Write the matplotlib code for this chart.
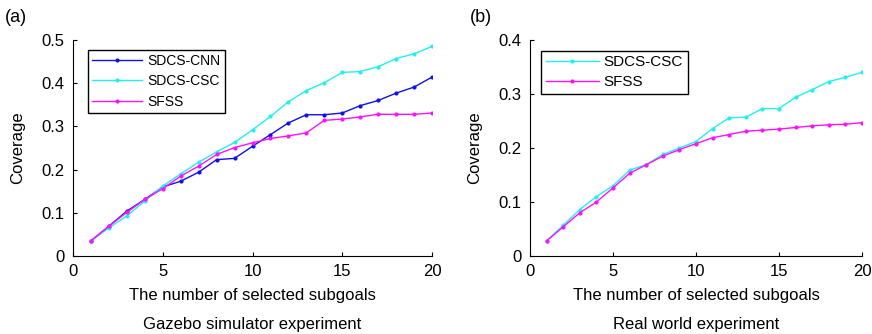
import numpy as np
import matplotlib.pyplot as plt

plt.rcParams['font.family'] = ['Liberation Sans', 'DejaVu Sans']
plt.rcParams['font.size'] = 12

# data
subgoals = list(range(1, 21))

gazebo_cnn = [0.035, 0.069, 0.104, 0.131, 0.160, 0.173, 0.194, 0.223, 0.226, 0.254,
              0.281, 0.308, 0.327, 0.327, 0.331, 0.348, 0.360, 0.377, 0.391, 0.414]
gazebo_csc = [0.035, 0.065, 0.093, 0.127, 0.162, 0.190, 0.217, 0.241, 0.263, 0.292,
              0.323, 0.357, 0.383, 0.401, 0.425, 0.427, 0.438, 0.457, 0.468, 0.485]
gazebo_sfss = [0.035, 0.069, 0.101, 0.131, 0.156, 0.185, 0.208, 0.235, 0.251, 0.262,
               0.272, 0.278, 0.285, 0.314, 0.317, 0.322, 0.328, 0.328, 0.328, 0.331]

real_csc = [0.028, 0.057, 0.086, 0.110, 0.130, 0.159, 0.169, 0.188, 0.200, 0.212,
            0.236, 0.256, 0.257, 0.273, 0.273, 0.294, 0.308, 0.323, 0.331, 0.340]
real_sfss = [0.028, 0.054, 0.080, 0.100, 0.126, 0.153, 0.169, 0.185, 0.197, 0.208,
             0.219, 0.225, 0.231, 0.233, 0.235, 0.238, 0.241, 0.243, 0.244, 0.247]

BLUE = '#1010ee'
CYAN = '#22f0f0'
MAGENTA = '#ff10ff'

fig = plt.figure(figsize=(8.72, 3.34), dpi=100)
W, H = 872, 334
ax1 = fig.add_axes([73 / W, 1 - 256 / H, (432 - 73) / W, (256 - 40) / H])
ax2 = fig.add_axes([530 / W, 1 - 256 / H, (862 - 530) / W, (256 - 40) / H])

line_kw = dict(marker='.', markersize=4, linewidth=1.0)
ax1.plot(subgoals, gazebo_cnn, color=BLUE, label='SDCS-CNN', **line_kw)
ax1.plot(subgoals, gazebo_csc, color=CYAN, label='SDCS-CSC', **line_kw)
ax1.plot(subgoals, gazebo_sfss, color=MAGENTA, label='SFSS', **line_kw)

ax2.plot(subgoals, real_csc, color=CYAN, label='SDCS-CSC', **line_kw)
ax2.plot(subgoals, real_sfss, color=MAGENTA, label='SFSS', **line_kw)

for ax, ymax in [(ax1, 0.5), (ax2, 0.4)]:
    ax.set_xlim(0, 20)
    ax.set_ylim(0, ymax)
    ax.set_xticks([0, 5, 10, 15, 20])
    ax.set_yticks(np.arange(0, ymax + 0.001, 0.1))
    ax.set_yticklabels(['0'] + ['%.1f' % v for v in np.arange(0.1, ymax + 0.001, 0.1)])
    ax.spines['top'].set_visible(False)
    ax.spines['right'].set_visible(False)
    ax.tick_params(direction='in', length=3, width=0.8, pad=6, labelsize=12)
    ax.set_xlabel('The number of selected subgoals', labelpad=6)
    ax.set_ylabel('Coverage', labelpad=12)

ax1.legend(loc='upper left', bbox_to_anchor=(0.042, 0.954), borderaxespad=0,
           fancybox=False, edgecolor='black', framealpha=1, fontsize=10,
           handlelength=3.6, borderpad=0.3, labelspacing=0.45, handletextpad=0.4)
ax2.legend(loc='upper left', bbox_to_anchor=(0.033, 0.95), borderaxespad=0,
           fancybox=False, edgecolor='black', framealpha=1, fontsize=11,
           handlelength=3.5, borderpad=0.3, labelspacing=0.4, handletextpad=0.3)

fig.text(5 / W, 1 - 18 / H, '(a)', fontsize=13, va='center')
fig.text(470 / W, 1 - 18 / H, '(b)', fontsize=13, va='center')
fig.text((73 + 432) / 2 / W, 1 - 324 / H, 'Gazebo simulator experiment', ha='center', va='center')
fig.text((530 + 862) / 2 / W, 1 - 324 / H, 'Real world experiment', ha='center', va='center')

fig.savefig('out.png', dpi=100)
